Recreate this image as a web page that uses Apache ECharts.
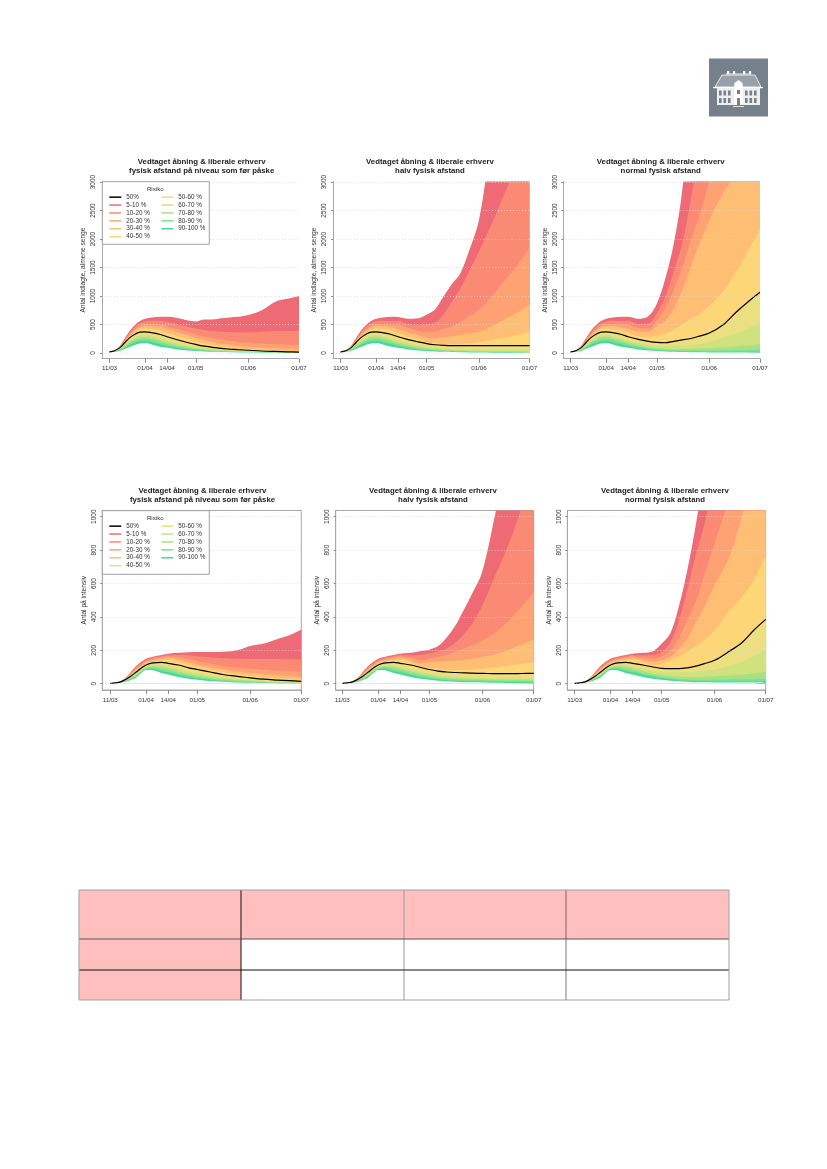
<!DOCTYPE html>
<html>
<head>
<meta charset="utf-8">
<title>Vedtaget åbning & liberale erhverv</title>
<script src="https://cdn.jsdelivr.net/npm/echarts@6/dist/echarts.min.js"></script>
<style>
  html, body { margin: 0; padding: 0; background: #fff; }
  #page { width: 827px; height: 1169px; }
</style>
</head>
<body>
<div id="page"></div>
<script>
// days since 11/03
const days = [0, 3, 6, 9, 12, 15, 18, 21, 25, 30, 34, 40, 46, 51, 56, 61, 66, 71, 76, 82, 90, 98, 105, 112];
const tickDays = [0, 21, 34, 51, 82, 112];
const tickLabels = ['11/03', '01/04', '14/04', '01/05', '01/06', '01/07'];
const sengeTicks = [0, 500, 1000, 1500, 2000, 2500, 3000];
const intensivTicks = [0, 200, 400, 600, 800, 1000];

const bandNames = ['5-10 %', '10-20 %', '20-30 %', '30-40 %', '40-50 %', '50-60 %', '60-70 %', '70-80 %', '80-90 %', '90-100 %'];
const bandColors = ['#ee6b76', '#fb8a74', '#fea274', '#febf74', '#fdd677', '#ebdf7f', '#cfe27d', '#a6e188', '#78df97', '#3fdc98'];
const medianRow = 5; // row 5 of each table below is the 50% curve

// upper edge of each band, first 10 days are the same in all scenarios
const sengeStart = [
  [20, 45, 120, 260, 390, 490, 560, 600, 625, 635],
  [20, 43, 110, 235, 360, 460, 520, 555, 565, 560],
  [20, 42, 105, 215, 330, 420, 480, 510, 510, 500],
  [20, 41, 100, 205, 310, 395, 450, 470, 470, 450],
  [20, 40, 95, 195, 290, 365, 415, 430, 420, 395],
  [20, 40, 90, 180, 270, 330, 365, 372, 355, 325],
  [18, 36, 75, 150, 225, 280, 310, 315, 295, 260],
  [17, 34, 65, 130, 195, 250, 280, 285, 265, 225],
  [16, 30, 55, 110, 170, 215, 245, 250, 230, 190],
  [14, 25, 45, 90, 140, 180, 205, 210, 190, 155],
  [12, 20, 35, 70, 105, 140, 168, 170, 150, 110]
];
const sengeLav = [
  [635, 615, 575, 555, 590, 590, 610, 625, 635, 665, 750, 900, 950, 1000],
  [545, 505, 460, 430, 405, 385, 375, 370, 365, 365, 375, 385, 385, 390],
  [470, 420, 370, 330, 290, 260, 235, 215, 195, 180, 165, 152, 145, 140],
  [420, 365, 310, 265, 225, 195, 165, 145, 125, 110, 90, 78, 70, 65],
  [360, 300, 250, 205, 170, 145, 120, 100, 85, 72, 56, 45, 36, 30],
  [285, 232, 185, 150, 120, 100, 80, 68, 58, 48, 35, 27, 21, 15],
  [220, 170, 130, 105, 85, 68, 55, 45, 38, 30, 22, 16, 12, 10],
  [185, 140, 105, 82, 65, 52, 42, 34, 28, 22, 16, 12, 9, 7],
  [155, 115, 85, 65, 50, 40, 32, 26, 21, 16, 12, 8, 6, 5],
  [125, 90, 65, 48, 38, 30, 24, 19, 15, 12, 8, 6, 4, 3],
  [90, 62, 44, 33, 26, 20, 16, 12, 9, 7, 5, 3, 2, 2]
];
const sengeHalv = [
  [630, 600, 610, 670, 766, 990, 1210, 1400, 1780, 2335, 3800, 4800, 5500, 6200],
  [560, 510, 495, 510, 530, 680, 900, 1130, 1420, 1780, 2300, 2850, 3400, 3900],
  [490, 440, 390, 370, 375, 420, 470, 540, 640, 760, 1000, 1300, 1550, 1850],
  [420, 360, 310, 265, 255, 270, 295, 315, 345, 375, 470, 600, 710, 850],
  [360, 290, 240, 195, 170, 155, 155, 160, 170, 190, 230, 270, 320, 370],
  [285, 235, 195, 165, 145, 135, 130, 130, 130, 130, 130, 130, 130, 130],
  [220, 170, 130, 105, 90, 75, 65, 60, 55, 50, 50, 50, 50, 50],
  [185, 140, 100, 82, 68, 55, 48, 42, 38, 33, 30, 30, 30, 30],
  [155, 115, 80, 65, 52, 42, 35, 30, 26, 22, 20, 20, 18, 18],
  [125, 90, 63, 48, 38, 30, 25, 20, 18, 15, 13, 12, 11, 10],
  [90, 62, 44, 33, 26, 20, 16, 12, 10, 8, 6, 5, 4, 4]
];
const sengeNormal = [
  [635, 600, 650, 870, 1310, 1925, 2860, 4500, 6000, 8000, 10000, 12000, 14000, 16000],
  [565, 510, 520, 696, 990, 1430, 1925, 2685, 3600, 5000, 7000, 9000, 11000, 13000],
  [495, 440, 430, 570, 790, 1110, 1500, 1980, 2400, 3050, 4500, 6000, 7500, 9000],
  [425, 375, 380, 470, 570, 780, 1100, 1510, 1910, 2330, 2800, 3150, 3600, 4000],
  [360, 290, 280, 310, 340, 415, 500, 600, 680, 830, 1080, 1420, 1800, 2160],
  [285, 240, 205, 185, 180, 205, 230, 255, 295, 350, 490, 720, 900, 1065],
  [220, 175, 150, 125, 120, 125, 130, 135, 155, 190, 270, 340, 430, 530],
  [185, 140, 105, 85, 75, 70, 70, 72, 78, 85, 100, 115, 135, 160],
  [155, 115, 82, 65, 55, 48, 44, 42, 42, 42, 45, 48, 50, 55],
  [125, 90, 63, 48, 38, 32, 28, 25, 24, 22, 22, 22, 22, 24],
  [90, 62, 44, 33, 26, 20, 16, 14, 12, 10, 9, 8, 8, 8]
];

const intensivStart = [
  [2, 6, 14, 35, 70, 105, 130, 150, 162, 172],
  [2, 6, 14, 33, 65, 98, 122, 142, 155, 165],
  [2, 6, 13, 31, 60, 90, 115, 135, 148, 158],
  [2, 5, 13, 30, 56, 85, 108, 128, 140, 148],
  [2, 5, 12, 28, 52, 78, 100, 120, 132, 140],
  [2, 5, 11, 25, 45, 68, 92, 112, 125, 128],
  [2, 5, 10, 22, 40, 60, 85, 103, 115, 112],
  [2, 4, 9, 19, 35, 54, 78, 97, 105, 100],
  [2, 4, 8, 17, 31, 49, 72, 92, 98, 88],
  [1, 3, 7, 14, 27, 43, 68, 88, 90, 76],
  [1, 3, 6, 12, 22, 36, 62, 82, 80, 64]
];
const intensivLav = [
  [180, 185, 188, 190, 190, 190, 192, 195, 205, 226, 240, 268, 290, 325],
  [172, 172, 170, 165, 160, 155, 153, 150, 150, 148, 148, 148, 146, 145],
  [165, 158, 148, 135, 125, 115, 105, 100, 95, 90, 83, 78, 74, 70],
  [155, 145, 130, 115, 105, 95, 85, 78, 70, 65, 55, 50, 45, 40],
  [143, 128, 112, 100, 90, 80, 70, 62, 55, 47, 38, 32, 27, 22],
  [122, 112, 95, 85, 75, 65, 55, 48, 42, 35, 27, 22, 18, 14],
  [105, 88, 72, 62, 52, 44, 37, 32, 27, 22, 16, 12, 10, 8],
  [92, 74, 60, 50, 42, 34, 29, 24, 20, 16, 12, 9, 7, 5],
  [80, 62, 50, 40, 33, 27, 22, 18, 15, 12, 9, 6, 5, 3],
  [68, 52, 40, 32, 26, 20, 16, 13, 11, 8, 6, 4, 3, 2],
  [55, 40, 30, 24, 18, 14, 11, 9, 7, 5, 4, 3, 2, 1]
];
const intensivHalv = [
  [180, 185, 196, 204, 225, 275, 345, 440, 540, 675, 1040, 1400, 1800, 2200],
  [172, 170, 172, 182, 195, 210, 245, 295, 360, 470, 660, 852, 1060, 1300],
  [165, 155, 142, 150, 160, 172, 190, 210, 230, 258, 310, 385, 460, 545],
  [155, 140, 122, 128, 130, 135, 138, 142, 150, 160, 178, 205, 235, 265],
  [143, 128, 105, 95, 88, 84, 82, 82, 84, 90, 98, 108, 118, 130],
  [122, 112, 97, 85, 75, 70, 67, 65, 63, 62, 60, 60, 61, 62],
  [105, 88, 72, 62, 52, 46, 42, 38, 36, 34, 33, 33, 33, 33],
  [92, 74, 60, 50, 42, 36, 32, 29, 27, 26, 25, 24, 24, 24],
  [80, 62, 50, 40, 33, 28, 25, 22, 21, 20, 18, 17, 16, 16],
  [68, 52, 40, 32, 26, 21, 18, 16, 14, 13, 11, 10, 9, 9],
  [55, 40, 30, 24, 18, 14, 11, 9, 8, 7, 5, 4, 3, 3]
];
const intensivNormal = [
  [180, 185, 195, 240, 300, 460, 680, 950, 1300, 1800, 2600, 3300, 4000, 4500],
  [172, 170, 172, 190, 245, 375, 560, 770, 950, 1250, 1700, 2200, 2700, 3200],
  [165, 155, 150, 165, 195, 270, 380, 490, 650, 840, 1100, 1500, 1900, 2300],
  [155, 140, 130, 140, 160, 205, 270, 365, 460, 590, 740, 1000, 1250, 1500],
  [143, 128, 112, 118, 140, 165, 190, 225, 265, 320, 430, 520, 620, 765],
  [122, 112, 100, 92, 90, 90, 95, 105, 120, 140, 190, 245, 320, 385],
  [105, 88, 76, 70, 68, 68, 70, 72, 78, 85, 105, 130, 165, 205],
  [92, 74, 60, 52, 46, 42, 40, 40, 42, 45, 50, 55, 62, 72],
  [80, 62, 50, 40, 33, 28, 26, 24, 24, 24, 25, 26, 27, 28],
  [68, 52, 40, 32, 26, 21, 18, 16, 14, 13, 12, 12, 12, 14],
  [55, 40, 30, 24, 18, 14, 11, 9, 8, 7, 7, 7, 7, 8]
];

const titleTop = 'Vedtaget åbning & liberale erhverv';
const subtitles = ['fysisk afstand på niveau som før påske', 'halv fysisk afstand', 'normal fysisk afstand'];
const sengeName = 'Antal indlagte, almene senge';
const intensivName = 'Antal på intensiv';

const FONT = '"Liberation Sans", Arial, sans-serif';
const AXIS_GRAY = '#a8a8a8';

// left edge, x of 11/03, x of 01/07, title centre
const topPanels = [[102, 109.5, 299, 201.7], [333, 340.7, 529.5, 430], [563.3, 570.7, 760, 660.7]];
const bottomPanels = [[102.3, 110.3, 301.3, 202.5], [335.7, 342.3, 533.7, 433], [567.3, 574.7, 765.7, 665]];

let option = {
  backgroundColor: '#fff',
  animation: false,
  title: [], grid: [], xAxis: [], yAxis: [], series: [], legend: [], graphic: []
};

function addPanel(p, i, top, bottom, yMin, yMax, ticks, yName, start, tail, boxed, titleY) {
  let k = option.grid.length;
  let pxPerDay = (p[2] - p[1]) / 112;

  option.title.push({
    text: titleTop + '\n' + subtitles[i],
    left: p[3], top: titleY, textAlign: 'center', padding: 0,
    textStyle: { fontFamily: FONT, fontSize: 7.8, fontWeight: 'bold', color: '#222', lineHeight: 9.5 }
  });
  option.grid.push({
    left: p[0], top: top, width: p[2] - p[0], height: bottom - top,
    show: boxed, borderColor: AXIS_GRAY, borderWidth: 1, backgroundColor: 'transparent'
  });
  option.xAxis.push({
    gridIndex: k, type: 'value', min: -(p[1] - p[0]) / pxPerDay, max: 112,
    splitLine: { show: false },
    axisLine: { onZero: false, lineStyle: { color: AXIS_GRAY } },
    axisTick: { length: 4, customValues: tickDays, lineStyle: { color: '#888' } },
    axisLabel: {
      customValues: tickDays, margin: 7, fontFamily: FONT, fontSize: 6.2, color: '#333',
      formatter: function (v) { return tickLabels[tickDays.indexOf(v)]; }
    }
  });
  option.yAxis.push({
    gridIndex: k, type: 'value', min: yMin, max: yMax, z: 4,
    name: yName, nameLocation: 'middle', nameRotate: 90, nameGap: 15, nameMoveOverlap: false,
    nameTextStyle: { fontFamily: FONT, fontSize: 6.6, color: '#333' },
    axisLine: { show: true, onZero: false, lineStyle: { color: AXIS_GRAY } },
    axisTick: { show: true, length: 2, customValues: ticks, lineStyle: { color: '#888' } },
    axisLabel: {
      customValues: ticks, rotate: 90, margin: 5, fontFamily: FONT, fontSize: 6.5, color: '#333',
      formatter: function (v) { return String(v); }
    },
    splitLine: { show: true, lineStyle: { type: [1, 2], color: 'rgba(215,215,215,0.75)', width: 1 } }
  });

  let rows = start.map(function (r, n) { return r.concat(tail[n]); });
  let pairs = function (row) { return days.map(function (d, n) { return [d, row[n]]; }); };

  // painted back to front, each area fills down to zero
  rows.forEach(function (row, n) {
    let color = n < bandColors.length ? bandColors[n] : '#ffffff';
    option.series.push({
      name: n < bandNames.length ? bandNames[n] : 'bund',
      type: 'line', xAxisIndex: k, yAxisIndex: k, data: pairs(row),
      showSymbol: false, smooth: 0.35, silent: true,
      itemStyle: { color: color },
      lineStyle: { width: 0 },
      areaStyle: { color: color, opacity: 1 },
      z: 2
    });
  });
  option.series.push({
    name: '50%', type: 'line', xAxisIndex: k, yAxisIndex: k, data: pairs(rows[medianRow]),
    showSymbol: false, smooth: 0.35, silent: true,
    itemStyle: { color: '#000' }, lineStyle: { color: '#000', width: 1.2 }, z: 3
  });
}

function addLegend(x, y, h) {
  // white box, title and two columns as in the R legend
  option.graphic.push({
    type: 'rect', z: 5, shape: { x: x, y: y, width: 107, height: h },
    style: { fill: '#fff', stroke: '#a0a0a0', lineWidth: 1 }
  });
  option.graphic.push({
    type: 'text', z: 6, x: x + 53, y: y + 5,
    style: { text: 'Risiko', fontFamily: FONT, fontSize: 6.2, fill: '#333', textAlign: 'center' }
  });
  let common = {
    orient: 'vertical', selectMode: false, icon: 'rect', itemWidth: 12, itemHeight: 1.5, itemGap: 0, padding: 0, z: 7,
    textStyle: { fontFamily: FONT, fontSize: 6.3, color: '#333', lineHeight: 7.9, height: 7.9, padding: [0, 0, 0, 0] }
  };
  option.legend.push(Object.assign({}, common, { left: x + 7, top: y + 11.5, data: ['50%'].concat(bandNames.slice(0, 5)) }));
  option.legend.push(Object.assign({}, common, { left: x + 59, top: y + 11.5, data: bandNames.slice(5) }));
}

function tableLine(x1, y1, x2, y2, color, width) {
  option.graphic.push({
    type: 'line', z: 2, shape: { x1: x1, y1: y1, x2: x2, y2: y2 },
    style: { stroke: color, lineWidth: width }
  });
}

function addTable() {
  let xs = [79, 241, 404, 566, 729];
  let ys = [890, 939, 970, 1000];
  for (let r = 0; r < 3; r++) {
    for (let c = 0; c < 4; c++) {
      if (r === 0 || c === 0) {
        option.graphic.push({
          type: 'rect', z: 1, shape: { x: xs[c], y: ys[r], width: xs[c + 1] - xs[c], height: ys[r + 1] - ys[r] },
          style: { fill: '#ffbfbf' }
        });
      }
    }
  }
  tableLine(xs[1], ys[0], xs[1], ys[3], '#111', 1);
  tableLine(xs[2], ys[0], xs[2], ys[3], '#999', 1);
  tableLine(xs[3], ys[0], xs[3], ys[3], '#444', 0.7);
  tableLine(xs[0], ys[1], xs[4], ys[1], '#555', 1);
  tableLine(xs[0], ys[2], xs[4], ys[2], '#111', 1);
  option.graphic.push({
    type: 'rect', z: 3, shape: { x: xs[0], y: ys[0], width: xs[4] - xs[0], height: ys[3] - ys[0] },
    style: { fill: 'none', stroke: '#a0a0a0', lineWidth: 1 }
  });
}

function addLogo() {
  const gray = '#76808b';
  let shapes = [
    { type: 'rect', shape: { x: 709, y: 58.5, width: 59, height: 58 }, style: { fill: gray } },
    { type: 'rect', z: 1, shape: { x: 726, y: 73.5, width: 25, height: 1 }, style: { fill: '#e6e8ea' } },
    { type: 'polygon', z: 1, shape: { points: [[722, 75], [755, 75], [761, 87], [715, 87]] }, style: { fill: '#98a0a9', stroke: '#fff', lineWidth: 0.8 } },
    { type: 'rect', z: 1, shape: { x: 713, y: 87, width: 50, height: 1.3 }, style: { fill: '#fff' } },
    { type: 'rect', z: 1, shape: { x: 717, y: 88, width: 43, height: 17 }, style: { fill: '#eceef0' } },
    { type: 'polygon', z: 1, shape: { points: [[734, 88], [734.5, 83], [738.5, 80], [742.5, 83], [743, 88], [743, 105], [734, 105]] }, style: { fill: '#fff' } },
    { type: 'rect', z: 1, shape: { x: 733, y: 106, width: 11, height: 1 }, style: { fill: '#dfe2e4' } }
  ];
  [727, 733, 743, 749].forEach(function (x) {
    shapes.push({ type: 'rect', z: 2, shape: { x: x, y: 71, width: 2.2, height: 3 }, style: { fill: '#fff' } });
  });
  [719, 723.5, 728, 745, 749.5, 754].forEach(function (x) {
    shapes.push({ type: 'rect', z: 2, shape: { x: x, y: 90.5, width: 2.6, height: 5 }, style: { fill: gray } });
    shapes.push({ type: 'rect', z: 2, shape: { x: x, y: 98, width: 2.6, height: 5 }, style: { fill: gray } });
  });
  shapes.push({ type: 'rect', z: 2, shape: { x: 737, y: 90, width: 3, height: 4 }, style: { fill: gray } });
  shapes.push({ type: 'rect', z: 2, shape: { x: 737, y: 98, width: 3, height: 7 }, style: { fill: gray } });
  option.graphic = option.graphic.concat(shapes);
}

function init() {
  let chart = echarts.init(document.getElementById('page'), null, { renderer: 'canvas' });

  let sengeTails = [sengeLav, sengeHalv, sengeNormal];
  let intensivTails = [intensivLav, intensivHalv, intensivNormal];
  topPanels.forEach(function (p, i) {
    addPanel(p, i, 181.5, 358.7, -100, 3010, sengeTicks, sengeName, sengeStart, sengeTails[i], false, 157);
  });
  bottomPanels.forEach(function (p, i) {
    addPanel(p, i, 510.5, 690, -37.7, 1037, intensivTicks, intensivName, intensivStart, intensivTails[i], true, 486);
  });

  addLegend(102.3, 181.7, 62.6);
  addLegend(102.3, 510.7, 63.6);
  addTable();
  addLogo();

  chart.setOption(option);
}

window.onload = init;
</script>
</body>
</html>
